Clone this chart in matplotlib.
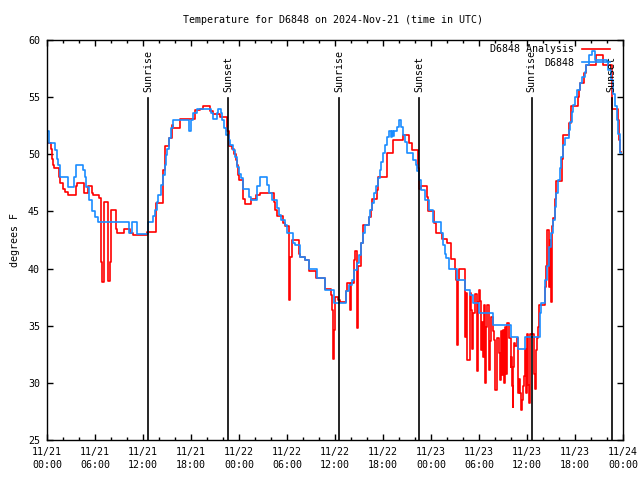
import matplotlib
matplotlib.use('Agg')
import matplotlib.pyplot as plt
import matplotlib.ticker as ticker

# hours since 2024-11-21 00:00 UTC
# "D6848 Analysis" (red) and "D6848" (blue), degrees F
red_hours = [
    0.0, 0.5, 0.6, 0.8, 0.9, 1.5, 1.6, 2.0, 2.3, 2.6, 3.6, 3.7, 4.6, 5.1, 5.6, 5.8,
    6.5, 6.8, 6.9, 7.1, 7.6, 7.9, 8.0, 8.6, 8.7, 9.6, 10.4, 10.7, 12.5, 13.6, 14.5, 14.7,
    15.3, 15.6, 15.8, 16.6, 18.5, 19.1, 19.5, 20.4, 20.8, 21.6, 22.5, 22.7, 23.1, 23.4,
    23.6, 23.7, 23.9, 24.0, 24.5, 24.7, 25.5, 26.1, 26.6, 28.4, 28.5, 28.7, 29.5, 29.75,
    30.2, 30.25, 30.35, 30.4, 30.6, 31.5, 31.6, 32.25, 32.7, 33.6, 34.7, 35.5, 35.6, 35.7,
    35.8, 35.9, 36.0, 36.4, 36.6, 37.4, 37.5, 37.9, 38.0, 38.4, 38.5, 38.7, 38.8, 38.9,
    39.2, 39.3, 39.5, 40.3, 40.5, 40.6, 41.2, 41.4, 42.5, 43.3, 44.5, 45.3, 45.6, 46.4,
    46.5, 46.8, 47.25, 47.46, 47.67, 48.42, 48.58, 49.42, 49.96, 50.5, 51.0, 51.12, 51.2,
    51.29, 51.38, 51.5, 52.3, 52.38, 52.5, 52.85, 53.0, 53.15, 53.25, 53.45, 53.8, 53.9,
    54.0, 54.1, 54.2, 54.35, 54.5, 54.6, 54.72, 54.82, 54.95, 55.3, 55.42, 55.55, 55.75,
    55.9, 56.05, 56.2, 56.3, 56.45, 56.6, 56.7, 56.85, 56.98, 57.1, 57.25, 57.4, 57.55,
    57.8, 57.95, 58.05, 58.15, 58.22, 58.3, 58.4, 58.55, 58.75, 58.9, 59.05, 59.15, 59.3,
    59.4, 59.5, 59.6, 59.75, 59.875, 59.96, 60.17, 60.25, 60.375, 60.92, 61.0, 61.08,
    61.21, 61.42, 61.5, 62.25, 62.33, 62.46, 62.5, 62.75, 62.875, 63.0, 63.08, 63.17,
    63.29, 63.5, 63.625, 64.33, 64.54, 65.29, 65.46, 66.33, 66.5, 66.625, 67.17, 67.33,
    68.58, 69.46, 69.54, 70.58, 70.67, 71.42, 71.5, 71.625, 71.7,
]
red_temps = [
    51.0, 50.5, 49.6, 49.1, 48.8, 48.0, 47.5, 47.0, 46.7, 46.4, 47.2, 47.5, 46.6, 47.2, 46.6, 46.4,
    46.2, 40.6, 38.85, 45.8, 38.9, 40.6, 45.1, 43.5, 43.1, 43.5, 43.1, 42.9, 43.2, 45.7, 48.6, 50.75,
    51.4, 52.6, 52.3, 53.1, 53.9, 54.0, 54.2, 53.8, 53.5, 53.3, 52.0, 50.7, 50.5, 50.0,
    49.5, 49.1, 48.2, 47.75, 46.1, 45.65, 46.1, 46.4, 46.6, 45.85, 45.1, 44.6, 44.0, 43.7,
    42.1, 37.25, 38.9, 41.0, 42.5, 41.3, 41.0, 40.75, 39.8, 39.2, 38.2, 37.7, 36.4, 34.0,
    32.1, 34.6, 37.5, 37.25, 37.1, 38.0, 38.7, 36.4, 38.7, 40.75, 41.5, 38.8, 34.8, 40.2,
    41.0, 42.2, 43.8, 44.5, 45.1, 46.1, 46.9, 48.0, 50.1, 51.25, 51.7, 51.0, 50.4, 48.8,
    47.0, 47.2, 47.2, 46.3, 45.0, 44.0, 43.1, 42.6, 42.2, 40.8, 40.0, 39.0, 35.2,
    33.3, 39.0, 40.0, 34.0, 37.9, 32.0, 37.9, 36.4, 33.0, 36.1, 37.8, 31.0, 37.1,
    38.1, 37.2, 32.9, 35.3, 32.3, 36.8, 29.96, 34.9, 36.8, 31.1, 33.7, 35.8, 34.5,
    33.75, 29.4, 29.7, 33.9, 32.6, 30.25, 34.5, 30.7, 34.6, 29.96, 34.9, 30.8, 35.2,
    33.9, 31.4, 32.3, 29.7, 27.9, 31.4, 33.5, 33.2, 33.9, 29.1, 30.3, 29.1, 27.6,
    28.5, 29.7, 30.6, 33.0, 29.1, 34.3, 29.8, 28.2, 34.3, 30.8, 29.5, 32.9,
    33.9, 34.9, 36.8, 38.4, 40.2, 41.6, 43.4, 38.4, 42.5, 37.1, 41.0, 43.7,
    44.4, 46.1, 47.7, 49.6, 51.7, 52.7, 54.2, 55.0, 55.6, 56.2, 57.1, 57.8,
    58.7, 58.25, 57.8, 56.35, 54.0, 53.0, 51.25, 50.2, 50.2,
]

blue_hours = [
    0.0, 0.25, 1.0, 1.2, 1.35, 1.6, 2.6, 3.4, 3.6, 4.5, 4.7, 4.9, 5.2, 5.6, 6.0, 6.4,
    10.3, 10.6, 11.3, 12.6, 13.3, 13.5, 13.7, 13.9, 14.2, 14.5, 14.7, 14.9, 15.0, 15.3,
    15.5, 15.7, 17.8, 18.0, 18.3, 18.8, 20.5, 20.8, 21.2, 21.4, 21.7, 21.9, 22.1, 22.4,
    22.7, 22.9, 23.3, 23.5, 23.8, 24.0, 24.2, 24.5, 25.3, 25.5, 26.3, 26.6, 27.5, 27.8,
    28.1, 28.8, 29.0, 29.2, 29.7, 30.0, 30.8, 31.0, 31.6, 32.2, 32.7, 33.8, 34.7, 35.9,
    37.4, 37.8, 38.1, 38.4, 38.7, 39.0, 39.3, 39.5, 39.8, 40.2, 40.4, 40.6, 40.9, 41.1,
    41.4, 41.6, 41.8, 42.0, 42.2, 42.5, 42.8, 43.0, 43.1, 43.2, 43.4, 43.7, 44.0, 44.2,
    44.5, 44.7, 45.0, 45.8, 46.1, 46.3, 46.5, 46.8, 47.2, 47.7, 48.3, 49.2, 49.5, 49.7,
    49.9, 50.2, 51.3, 52.3, 52.9, 53.3, 54.0, 55.7, 58.0, 58.9, 59.8, 61.6, 61.8, 62.2,
    62.5, 62.7, 63.0, 63.2, 63.5, 63.6, 63.9, 64.1, 64.3, 64.5, 64.7, 65.2, 65.4, 65.6,
    65.8, 66.0, 66.3, 66.6, 66.9, 67.2, 67.4, 67.8, 68.1, 68.5, 70.0, 70.15, 70.5, 70.8,
    71.0, 71.2, 71.4, 71.6, 71.7,
]
blue_temps = [
    52.0, 51.0, 50.4, 49.6, 49.1, 48.0, 47.1, 48.0, 49.1, 48.6, 48.0, 47.1, 46.0, 45.0, 44.5, 44.05,
    43.1, 44.05, 43.0, 44.05, 44.6, 45.1, 45.85, 46.4, 47.3, 48.2, 49.1, 49.9, 50.5, 51.4,
    52.3, 53.0, 52.0, 53.0, 53.6, 54.0, 53.6, 53.1, 53.6, 54.0, 53.6, 53.0, 52.3, 51.7,
    51.25, 50.8, 50.4, 49.8, 48.9, 48.3, 47.9, 47.0, 46.3, 46.0, 47.2, 48.0, 47.3, 46.6,
    46.0, 45.3, 44.7, 44.25, 43.8, 43.1, 42.2, 42.06, 41.0, 40.75, 40.0, 39.15, 38.1, 37.0,
    38.0, 38.6, 39.0, 39.9, 40.5, 41.2, 42.2, 43.1, 43.8, 44.5, 45.1, 45.7, 46.6, 47.2,
    47.9, 48.6, 49.35, 50.1, 50.8, 51.5, 52.0, 51.5, 52.0, 51.6, 52.0, 52.4, 53.0, 52.4,
    51.7, 51.1, 50.1, 49.5, 49.1, 48.5, 47.75, 46.9, 46.0, 45.1, 44.1, 43.1, 42.1, 41.3,
    40.9, 40.0, 39.0, 38.1, 37.7, 37.0, 36.1, 35.1, 34.0, 33.0, 34.0, 36.1, 37.0, 39.0,
    40.2, 41.9, 43.1, 44.25, 45.4, 46.6, 47.75, 48.8, 49.8, 50.8, 51.4, 52.1, 52.85, 53.7,
    54.3, 55.0, 55.6, 56.2, 56.8, 57.2, 57.8, 58.7, 59.0, 58.25, 58.2, 57.4, 56.5, 55.3,
    54.2, 53.0, 51.8, 50.1, 50.1,
]

sun_hours = [12.65, 22.65, 36.55, 46.55, 60.6, 70.6]
sun_labels = ['Sunrise', 'Sunset', 'Sunrise', 'Sunset', 'Sunrise', 'Sunset']

tick_hours = list(range(0, 73, 6))
tick_labels = ['11/21\n00:00', '11/21\n06:00', '11/21\n12:00', '11/21\n18:00',
               '11/22\n00:00', '11/22\n06:00', '11/22\n12:00', '11/22\n18:00',
               '11/23\n00:00', '11/23\n06:00', '11/23\n12:00', '11/23\n18:00',
               '11/24\n00:00']

plt.rcParams['font.family'] = 'DejaVu Sans Mono'
plt.rcParams['font.size'] = 7.2

fig = plt.figure(figsize=(6.4, 4.8), dpi=100)
ax = fig.add_axes([47 / 640, 40 / 480, 576 / 640, 400 / 480])

ax.plot(red_hours, red_temps, drawstyle='steps-post', color='#ff0000', lw=1.2,
        label='D6848 Analysis')
ax.plot(blue_hours, blue_temps, drawstyle='steps-post', color='#1a8cff', lw=1.2,
        label='D6848')

for h, lab in zip(sun_hours, sun_labels):
    ax.plot([h, h], [25, 54.9], color='black', lw=1.2)
    ax.text(h, 55.45, lab, rotation=90, ha='center', va='bottom')

ax.set_xlim(0, 72)
ax.set_ylim(25, 60)
ax.set_xticks(tick_hours)
ax.set_xticklabels(tick_labels, linespacing=1.35)
ax.xaxis.set_minor_locator(ticker.MultipleLocator(2))
ax.set_yticks(range(25, 61, 5))
ax.tick_params(which='both', direction='in', top=True, right=True, width=1)
ax.tick_params(which='major', length=4, pad=5)
ax.tick_params(which='minor', length=2.5)
for s in ax.spines.values():
    s.set_linewidth(1)

ax.set_ylabel('degrees F', labelpad=6)
fig.text(333 / 640, 1 - 20 / 480, 'Temperature for D6848 on 2024-Nov-21 (time in UTC)',
         ha='center', va='center')

ax.legend(loc='upper right', bbox_to_anchor=(610 / 640, 1 - 44 / 480),
          bbox_transform=fig.transFigure, frameon=False, markerfirst=False,
          borderpad=0, borderaxespad=0, handlelength=2.8, handletextpad=0.8,
          labelspacing=0.35)

fig.savefig('out.png', dpi=100)
